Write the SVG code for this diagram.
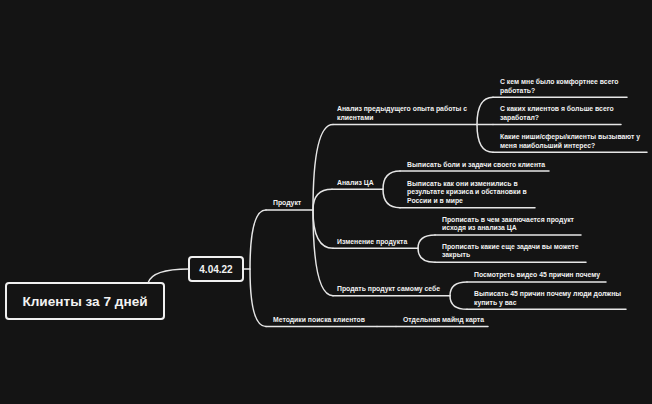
<svg xmlns="http://www.w3.org/2000/svg" width="652" height="404" viewBox="0 0 652 404">
<style>
.bg{fill:#141414}
.c{fill:none;stroke:#e6e6e6;stroke-width:1.5;stroke-linecap:round}
.u{fill:none;stroke:#e6e6e6;stroke-width:1.5;stroke-linecap:round}
.box{fill:#141414;stroke:#f0f0f0;stroke-width:2}
text{font-family:"Liberation Sans",Arial,sans-serif;font-weight:bold;fill:#f2f2f2}
.t{font-size:6.85px}
.root{font-size:13.6px}
.d{font-size:10px}
</style>
<rect class="bg" x="0" y="0" width="652" height="404"/>
<g id="connectors">
<path class="c" d="M148,283 Q152,269 189,269"/>
<path class="c" d="M243,269 L250,269 Q250,210 266,210"/>
<path class="c" d="M250,269 Q250,326.5 266,326.5"/>
<path class="c" d="M313,210 Q313,124.5 333,124.5"/>
<path class="c" d="M313,210 Q313,189.3 332,189.3"/>
<path class="c" d="M313,210 Q313,248.3 333,248.3"/>
<path class="c" d="M313,210 Q313,295.7 333,295.7"/>
<path class="c" d="M477,124.5 Q477,97.3 493,97.3"/>
<path class="c" d="M477,124.5 L493,124.5"/>
<path class="c" d="M477,124.5 Q477,152.3 493,152.3"/>
<path class="c" d="M383,189.3 Q383,171 400,171"/>
<path class="c" d="M383,189.3 Q383,207.7 400,207.7"/>
<path class="c" d="M418,248.3 Q418,235 435,235"/>
<path class="c" d="M418,248.3 Q418,262.3 435,262.3"/>
<path class="c" d="M450,295.7 Q450,282 467,282"/>
<path class="c" d="M450,295.7 Q450,309.3 467,309.3"/>
<path class="c" d="M377,326.5 L396,326.5"/>
</g>
<g id="root">
<rect class="box" x="6" y="283" width="158" height="36" rx="3"/>
<text class="root" x="85" y="305.5" text-anchor="middle">Клиенты за 7 дней</text>
</g>
<g id="date">
<rect class="box" x="189" y="257" width="54" height="24" rx="3" stroke-width="1.8"/>
<text class="d" x="216" y="272.5" text-anchor="middle">4.04.22</text>
</g>
<g id="product">
<line class="u" x1="266" y1="210" x2="313" y2="210"/>
<text class="t" x="273" y="205">Продукт</text>
</g>
<g id="methods">
<line class="u" x1="266" y1="326.5" x2="377" y2="326.5"/>
<text class="t" x="273" y="322">Методики поиска клиентов</text>
</g>
<g id="separate-map">
<line class="u" x1="396" y1="326.5" x2="488" y2="326.5"/>
<text class="t" x="403" y="322">Отдельная майнд карта</text>
</g>
<g id="past-experience">
<line class="u" x1="333" y1="124.5" x2="477" y2="124.5"/>
<text class="t" x="337" y="111">Анализ предыдущего опыта работы с</text>
<text class="t" x="337" y="119.5">клиентами</text>
</g>
<g id="comfort">
<line class="u" x1="493" y1="97.3" x2="627" y2="97.3"/>
<text class="t" x="500" y="84">С кем мне было комфортнее всего</text>
<text class="t" x="500" y="92.5">работать?</text>
</g>
<g id="earned">
<line class="u" x1="493" y1="124.5" x2="621" y2="124.5"/>
<text class="t" x="500" y="111">С каких клиентов я больше всего</text>
<text class="t" x="500" y="119.5">заработал?</text>
</g>
<g id="interest">
<line class="u" x1="493" y1="152.3" x2="647" y2="152.3"/>
<text class="t" x="500" y="139">Какие ниши/сферы/клиенты вызывают у</text>
<text class="t" x="500" y="147.5">меня наибольший интерес?</text>
</g>
<g id="ta">
<line class="u" x1="332" y1="189.3" x2="383" y2="189.3"/>
<text class="t" x="337" y="184.5">Анализ ЦА</text>
</g>
<g id="pains">
<line class="u" x1="400" y1="171" x2="549" y2="171"/>
<text class="t" x="407" y="166.5">Выписать боли и задачи своего клиента</text>
</g>
<g id="changes">
<line class="u" x1="400" y1="207.7" x2="535" y2="207.7"/>
<text class="t" x="407" y="185.5">Выписать как они изменились в</text>
<text class="t" x="407" y="194">результате кризиса и обстановки в</text>
<text class="t" x="407" y="202.5">России и в мире</text>
</g>
<g id="product-change">
<line class="u" x1="333" y1="248.3" x2="418" y2="248.3"/>
<text class="t" x="337" y="243.5">Изменение продукта</text>
</g>
<g id="what-product">
<line class="u" x1="435" y1="235" x2="581" y2="235"/>
<text class="t" x="442" y="221.5">Прописать в чем заключается продукт</text>
<text class="t" x="442" y="230">исходя из анализа ЦА</text>
</g>
<g id="other-tasks">
<line class="u" x1="435" y1="262.3" x2="586" y2="262.3"/>
<text class="t" x="442" y="248.8">Прописать какие еще задачи вы можете</text>
<text class="t" x="442" y="257.3">закрыть</text>
</g>
<g id="sell-self">
<line class="u" x1="333" y1="295.7" x2="450" y2="295.7"/>
<text class="t" x="337" y="291">Продать продукт самому себе</text>
</g>
<g id="video">
<line class="u" x1="467" y1="282" x2="606" y2="282"/>
<text class="t" x="474" y="277">Посмотреть видео 45 причин почему</text>
</g>
<g id="reasons">
<line class="u" x1="467" y1="309.3" x2="626" y2="309.3"/>
<text class="t" x="474" y="296">Выписать 45 причин почему люди должны</text>
<text class="t" x="474" y="304.5">купить у вас</text>
</g>
</svg>
